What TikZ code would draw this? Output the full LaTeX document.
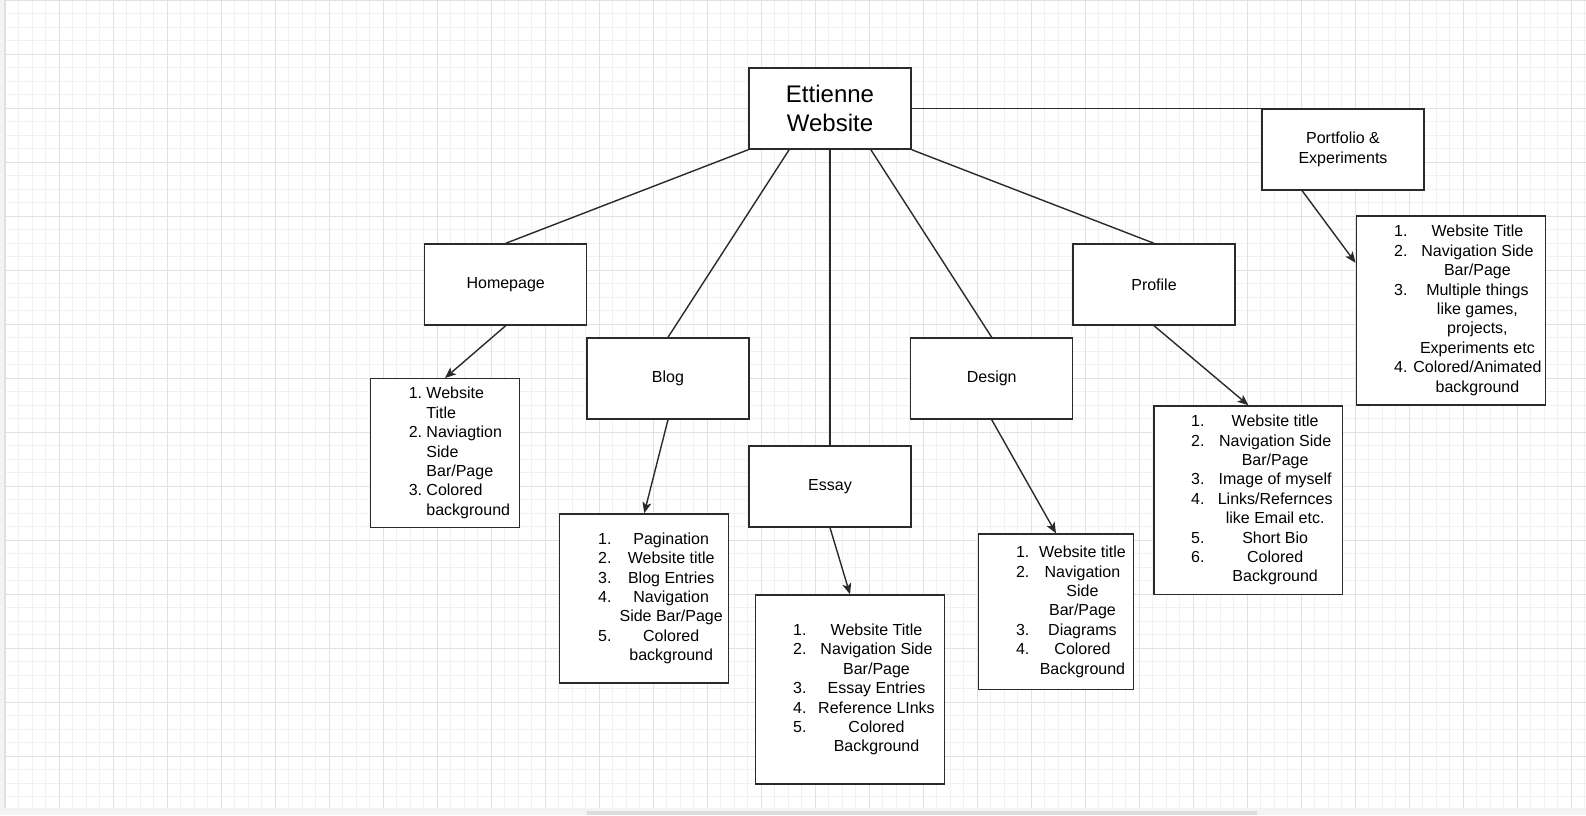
\documentclass[tikz,border=0pt]{standalone}
\usepackage{fontspec}
\setmainfont{Liberation Sans}
\usetikzlibrary{arrows.meta,calc}
\definecolor{gmin}{HTML}{F1F1F1}
\definecolor{gmaj}{HTML}{E1E1E1}
\definecolor{ink}{HTML}{2A2A2A}
\definecolor{band}{HTML}{F3F3F3}
\definecolor{sbar}{HTML}{DDDDDD}
% list with numbers at fixed offset and centred text
\newcommand\lstc[4]{\vbox{\hsize=#1pt\baselineskip=19.4pt\lineskiplimit=-20pt\lineskip=0pt%
 \def\LI##1##2{\hbox to #1pt{\hskip #2pt\rlap{##1}\hskip\dimexpr #3pt-#2pt\relax\hbox to 0pt{\hss##2\hss}\hss}}#4}}
% list with numbers at fixed offset and left-aligned text
\newcommand\lstl[4]{\vbox{\hsize=#1pt\baselineskip=19.4pt\lineskiplimit=-20pt\lineskip=0pt%
 \def\LI##1##2{\hbox to #1pt{\hskip #2pt\rlap{##1}\hskip\dimexpr #3pt-#2pt\relax ##2\hss}}#4}}
\tikzset{
  box/.style={draw=ink, line width=1.4pt, fill=white, minimum width=162pt, minimum height=81pt, inner sep=0pt, align=center},
  lbox/.style={draw=ink, line width=1.4pt, fill=white, inner sep=0pt},
  conn/.style={draw=ink, line width=1.4pt},
  arr/.style={conn, -{Stealth[length=11pt,width=9pt,inset=2.8pt]}},
  gminor/.style={draw=gmin, line width=0.9pt},
  gmajor/.style={draw=gmaj, line width=0.9pt}
}
\begin{document}
\begin{tikzpicture}[x=1pt,y=-1pt,font=\fontsize{16}{19.4}\selectfont]
\useasboundingbox (0,0) rectangle (1586,815);
% background and grid
\fill[white] (0,0) rectangle (1586,815);
\fill[band] (0,0) rectangle (5,815);
\foreach \i in {0,...,117} {\pgfmathsetmacro\xx{5.3+13.5*\i}\draw[gminor] (\xx,0) -- (\xx,808);}
\foreach \j in {0,...,59} {\pgfmathsetmacro\yy{0.3+13.5*\j}\draw[gminor] (5,\yy) -- (1586,\yy);}
\foreach \i in {0,...,29} {\pgfmathsetmacro\xx{5.3+54*\i}\draw[gmajor] (\xx,0) -- (\xx,808);}
\foreach \j in {0,...,14} {\pgfmathsetmacro\yy{0.3+54*\j}\draw[gmajor] (5,\yy) -- (1586,\yy);}
\draw[gmaj, line width=0.9pt] (4.6,0) -- (4.6,808);
\fill[band] (0,808) rectangle (1586,815);
\fill[sbar] (587,810.5) rectangle (1257,815);

% main nodes
\node[box, font=\fontsize{24}{28.8}\selectfont] (e) at (830,108.5) {Ettienne\\Website};
\node[box, font=\fontsize{16}{20}\selectfont] (port) at (1343,149.5) {Portfolio \&\\Experiments};
\node[box] (home) at (505.7,284.5) {Homepage};
\node[box] (blog) at (668,378.5) {Blog};
\node[box] (essay) at (830,486.5) {Essay};
\node[box] (design) at (991.7,378.5) {Design};
\node[box] (profile) at (1154,284.5) {Profile};

% list nodes
\node[lbox, minimum width=148.5pt, minimum height=148.5pt] (hl) at (445,453)
 {\lstl{148.5}{38}{55.7}{\LI{1.}{Website}\LI{}{Title}\LI{2.}{Naviagtion}\LI{}{Side}\LI{}{Bar/Page}\LI{3.}{Colored}\LI{}{background}}};
\node[lbox, minimum width=169pt, minimum height=169pt] (bl) at (644.2,598.4)
 {\lstc{169}{38.4}{111.5}{\LI{1.}{Pagination}\LI{2.}{Website title}\LI{3.}{Blog Entries}\LI{4.}{Navigation}\LI{}{Side Bar/Page}\LI{5.}{Colored}\LI{}{background}}};
\node[lbox, minimum width=189pt, minimum height=189pt] (el) at (850,689.5)
 {\lstc{189}{37.6}{121}{\LI{1.}{Website Title}\LI{2.}{Navigation Side}\LI{}{Bar/Page}\LI{3.}{Essay Entries}\LI{4.}{Reference LInks}\LI{5.}{Colored}\LI{}{Background}}};
\node[lbox, minimum width=155.3pt, minimum height=155.3pt] (dl) at (1056,611.7)
 {\lstc{155.3}{37.7}{104.1}{\LI{1.}{Website title}\LI{2.}{Navigation}\LI{}{Side}\LI{}{Bar/Page}\LI{3.}{Diagrams}\LI{4.}{Colored}\LI{}{Background}}};
\node[lbox, minimum width=188.5pt, minimum height=188.5pt] (pl) at (1248.4,500.2)
 {\lstc{188.5}{37}{121}{\LI{1.}{Website title}\LI{2.}{Navigation Side}\LI{}{Bar/Page}\LI{3.}{Image of myself}\LI{4.}{Links/Refernces}\LI{}{like Email etc.}\LI{5.}{Short Bio}\LI{6.}{Colored}\LI{}{Background}}};
\node[lbox, minimum width=189pt, minimum height=189pt] (ql) at (1450.7,310.4)
 {\lstc{189}{38}{121.2}{\LI{1.}{Website Title}\LI{2.}{Navigation Side}\LI{}{Bar/Page}\LI{3.}{Multiple things}\LI{}{like games,}\LI{}{projects,}\LI{}{Experiments etc}\LI{4.}{Colored/Animated}\LI{}{background}}};

% connectors from the title box
\draw[conn] (e.south west) -- (home.north);
\draw[conn] ($(e.south west)!0.25!(e.south east)$) -- (blog.north);
\draw[conn] (e.south) -- (essay.north);
\draw[conn] ($(e.south west)!0.75!(e.south east)$) -- (design.north);
\draw[conn] (e.south east) -- (profile.north);
\draw[conn] (e.east) -- (e.east -| port.west);

% arrows to the lists
\draw[arr] (home.south) -- (hl.north);
\draw[arr] (blog.south) -- (bl.north);
\draw[arr] (essay.south) -- (el.north);
\draw[arr] (design.south) -- (dl.north);
\draw[arr] (profile.south) -- (pl.north);
\draw[arr] ($(port.south west)!0.25!(port.south east)$) -- ($(ql.north west)!0.25!(ql.south west)$);
\end{tikzpicture}
\end{document}
